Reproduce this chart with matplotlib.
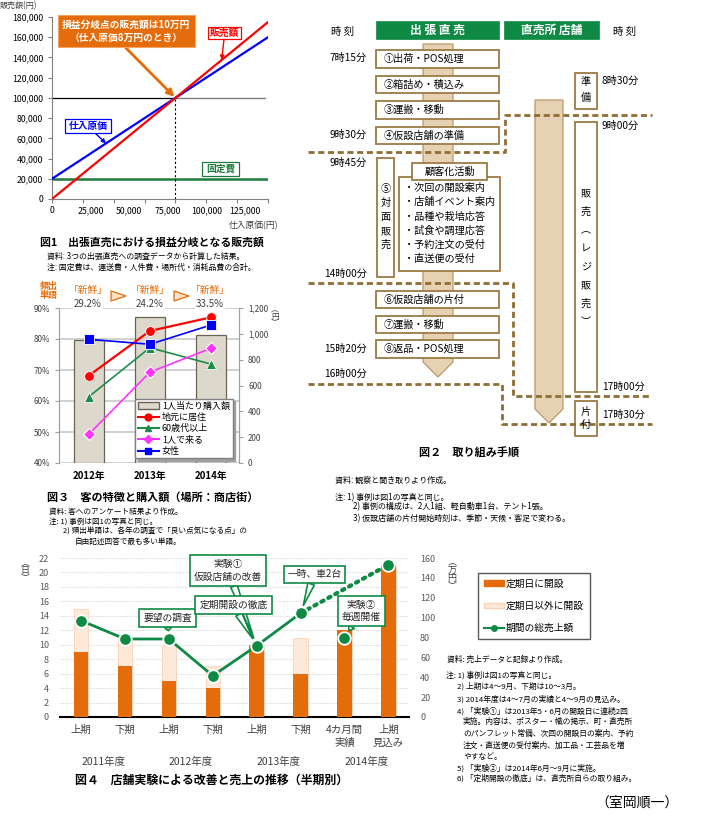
import numpy as np
import matplotlib.pyplot as plt
import matplotlib.transforms as mtransforms
from matplotlib.patches import Rectangle, Polygon, Patch
from matplotlib.lines import Line2D
from matplotlib.ticker import FuncFormatter

plt.rcParams['font.family'] = ['Noto Sans CJK JP', 'DejaVu Sans']

W, H = 705, 816

# 図1 データ
purchase = [0, 140000]
sales = [0, 175000]
cost = [20000, 160000]
fixed = [20000, 20000]
breakeven_x, breakeven_y = 80000, 100000

# 図3 データ
years3 = ['2012年', '2013年', '2014年']
spend = [950, 1130, 990]
local = [68.2, 82.6, 87.0]
over60 = [61.4, 77.2, 71.9]
alone = [49.3, 69.3, 77.0]
female = [79.9, 78.3, 84.5]
word_pct = ['29.2%', '24.2%', '33.5%']

# 図4 データ
periods = ['上期', '下期', '上期', '下期', '上期', '下期', '4カ月間\n実績', '上期\n見込み']
fiscal_years = ['2011年度', '2012年度', '2013年度', '2014年度']
days_regular = [9, 7, 5, 4, 10, 6, 12, 21]
days_total = [15, 11, 10, 7, 10, 11, 12, 21]
sales4 = [97, 78.5, 78.5, 41.5, 71.7, 104.4, 79.8, 153.2]

ORANGE = '#E46C0A'
GREEN = '#0E8A45'
BROWN = '#9C7B45'
TAN = '#E6D2B3'
GRAY = '#404040'

fig = plt.figure(figsize=(W / 100, H / 100), dpi=100)


def px_axes(x0, y0, x1, y1):
    return fig.add_axes([x0 / W, 1 - y1 / H, (x1 - x0) / W, (y1 - y0) / H])


# 全体の重ね書き用(ピクセル座標)
ov = fig.add_axes([0, 0, 1, 1], zorder=5)
ov.set_xlim(0, W)
ov.set_ylim(H, 0)
ov.axis('off')


def box(x0, y0, x1, y1, ec=BROWN, fc='white', lw=1.3, z=2):
    ov.add_patch(Rectangle((x0, y0), x1 - x0, y1 - y0, fc=fc, ec=ec, lw=lw, zorder=z))


def vtext(x, y0, dy, chars, **kw):
    for i, c in enumerate(chars):
        ov.text(x, y0 + i * dy, c, ha='center', va='center', zorder=4, **kw)


def txt(x, y, s, size=5.7, ha='left', **kw):
    ov.text(x, y, s, fontsize=size, ha=ha, va='center', zorder=4, **kw)


# ================= 図1 =================
ax1 = px_axes(52, 17, 268, 199)
ax1.plot(purchase, fixed, color='#1E7B3C', lw=1.8)
ax1.plot(purchase, cost, color='#0000FF', lw=1.6, zorder=3)
ax1.plot(purchase, sales, color='#FF0000', lw=1.6, zorder=4)
ax1.plot([0, breakeven_x], [breakeven_y] * 2, color='black', lw=0.9)
ax1.plot([breakeven_x, 138000], [breakeven_y] * 2, color='#7F7F7F', lw=1.0)
ax1.plot([breakeven_x] * 2, [0, breakeven_y], color='black', lw=0.8, ls=(0, (2, 2)))
ax1.set_xlim(0, 140000)
ax1.set_ylim(0, 180000)
ax1.set_yticks(range(0, 180001, 20000))
ax1.yaxis.set_major_formatter(FuncFormatter(lambda v, p: f'{int(v):,}'))
ax1.xaxis.remove_overlapping_locs = False
ax1.set_xticks(np.arange(0, 140001, 20000), labels=[])
ax1.set_xticks(np.arange(0, 125001, 25000), minor=True,
               labels=[f'{v:,}' for v in range(0, 125001, 25000)])
ax1.tick_params(axis='x', which='minor', length=0, labelsize=6.3, pad=5)
ax1.tick_params(axis='both', which='major', length=3, labelsize=6.3, color='#808080')
for s in ['top', 'right']:
    ax1.spines[s].set_visible(False)
for s in ['left', 'bottom']:
    ax1.spines[s].set_color('#808080')

txt(0, 6, '販売額(円)', size=5.8, color=GRAY)
txt(278, 226, '仕入原価(円)', size=6.3, ha='right', color=GRAY)

box(58, 15, 195, 47, ec='#F4A460', fc=ORANGE, lw=0.8, z=6)
ov.text(126, 31, '損益分岐点の販売額は10万円\n（仕入原価8万円のとき）', color='white',
        fontsize=7, ha='center', va='center', fontweight='bold', linespacing=1.4, zorder=7)
ax1.annotate('', xy=(breakeven_x, breakeven_y), xytext=(125, 47), textcoords=ov.transData,
             arrowprops=dict(arrowstyle='-|>', color=ORANGE, lw=2, mutation_scale=10, shrinkA=0, shrinkB=1))

box(208, 27, 241, 39, ec='#FF0000', lw=0.9, z=6)
ov.text(224.5, 33, '販売額', color='#FF0000', fontsize=7, ha='center', va='center',
        fontweight='bold', zorder=7)
ax1.annotate('', xy=(110000, 137500), xytext=(224, 39), textcoords=ov.transData,
             arrowprops=dict(arrowstyle='-|>', color='#FF0000', lw=1, mutation_scale=6, shrinkA=0, shrinkB=0))

box(65, 119, 111, 133, ec='#0000FF', lw=0.9, z=6)
ov.text(88, 126, '仕入原価', color='#0000FF', fontsize=7, ha='center', va='center',
        fontweight='bold', zorder=7)
ax1.annotate('', xy=(35000, 55000), xytext=(95, 133), textcoords=ov.transData,
             arrowprops=dict(arrowstyle='-|>', color='#0000FF', lw=1, mutation_scale=6, shrinkA=0, shrinkB=0))

box(202, 162, 239, 176, ec='#1E7B3C', lw=0.9, z=6)
ov.text(220.5, 169, '固定費', color='#1E7B3C', fontsize=7, ha='center', va='center',
        fontweight='bold', zorder=7)

txt(40, 243, '図1　出張直売における損益分岐となる販売額', size=7.8, fontweight='bold')
txt(47, 256, '資料: 3つの出張直売への調査データから計算した結果。')
txt(47, 267, '注: 固定費は、運送費・人件費・場所代・消耗品費の合計。')

# ================= 図3 =================
ax3 = px_axes(59, 308, 239, 463)
ax3r = ax3.twinx()
x3 = np.arange(len(years3))
for v in np.linspace(0, 1200, 6):
    ax3r.axhline(v, color='#C8C8C8', lw=1.2, zorder=0)
ax3r.bar(x3, spend, width=0.49, color='#DCD8CC', edgecolor='#6B6358', lw=0.9, zorder=2)
ax3r.set_ylim(0, 1200)
ax3r.set_yticks(range(0, 1201, 200))
ax3r.yaxis.set_major_formatter(FuncFormatter(lambda v, p: f'{int(v):,}'))
ax3.set_zorder(ax3r.get_zorder() + 1)
ax3.patch.set_visible(False)

ax3.plot(x3, local, color='#FF0000', lw=1.6, marker='o', ms=7, mec='white', mew=0.6)
ax3.plot(x3, over60, color='#1E8C4A', lw=1.2, marker='^', ms=7, mec='white', mew=0.6)
ax3.plot(x3, alone, color='#FF33FF', lw=1.2, marker='D', ms=6.5, mec='white', mew=0.8)
ax3.plot(x3, female, color='#0000FF', lw=1.2, marker='s', ms=7, mec='white', mew=0.6)
ax3.set_xlim(-0.49, 2.46)
ax3.set_ylim(40, 90)
ax3.set_yticks(range(40, 91, 10))
ax3.yaxis.set_major_formatter(FuncFormatter(lambda v, p: f'{int(v)}%'))
ax3.set_xticks(x3, years3)
for a in (ax3, ax3r):
    a.tick_params(axis='y', length=3, labelsize=5.8, labelcolor=GRAY, color='#A0A0A0')
    a.tick_params(axis='x', length=0, labelsize=7, pad=6)
    for s in a.spines.values():
        s.set_color('#A0A0A0')
    a.spines['top'].set_visible(False)
    a.spines['bottom'].set_visible(False)
for lbl in ax3.get_xticklabels():
    lbl.set_fontweight('bold')

handles3 = [Patch(fc='#DCD8CC', ec='#6B6358', label='1人当たり購入額'),
            Line2D([], [], color='#FF0000', marker='o', ms=5, label='地元に居住'),
            Line2D([], [], color='#1E8C4A', marker='^', ms=5, label='60歳代以上'),
            Line2D([], [], color='#FF33FF', marker='D', ms=4, label='1人で来る'),
            Line2D([], [], color='#0000FF', marker='s', ms=5, label='女性')]
leg3 = ax3.legend(handles=handles3, loc='lower right', bbox_to_anchor=(0.99, 0.0), fontsize=6.5,
                  handlelength=2.4, labelspacing=0.25, borderpad=0.3, handletextpad=0.3,
                  fancybox=False, framealpha=1, edgecolor='#808080',
                  shadow={'color': '#A0A0A0', 'alpha': 1})

ov.text(275, 317, '︵\n円\n︶', fontsize=5.5, color=GRAY, ha='center', va='center',
        linespacing=0.75, zorder=4)

# 頻出単語の見出し
ov.text(49, 291, '頻出\n単語', color=ORANGE, fontsize=6.5, fontweight='bold', ha='center',
        va='center', linespacing=1.0, zorder=4)
for cx, pct in zip([88, 150, 210], word_pct):
    ov.text(cx, 290, '「新鮮」', color=ORANGE, fontsize=7, ha='center', va='center', zorder=4)
    ov.text(cx, 304, pct, color=GRAY, fontsize=7, ha='center', va='center', zorder=4,
            bbox=dict(fc='white', ec='none', pad=1))
for tx in [111, 174]:
    ov.add_patch(Polygon([(tx, 291), (tx + 15, 296), (tx, 301)], closed=True,
                         fc='#FCE0C8', ec=ORANGE, lw=0.9, zorder=4))

txt(47, 497, '図３　客の特徴と購入額（場所：商店街）', size=8, fontweight='bold')
txt(49, 512, '資料: 客へのアンケート結果より作成。', size=5.5)
txt(49, 522, '注: 1) 事例は図1の写真と同じ。', size=5.5)
txt(63, 532, '2) 頻出単語は、各年の調査で「良い点気になる点」の', size=5.5)
txt(75, 542, '自由記述回答で最も多い単語。', size=5.5)

# ================= 図4 =================
ax4 = px_axes(60, 558, 409, 717)
x4 = np.arange(len(periods))
ax4.bar(x4, days_total, width=0.33, color='#FDE9D9', edgecolor='#FAD3B5', lw=0.6, zorder=2)
ax4.bar(x4, days_regular, width=0.33, color=ORANGE, zorder=3)
ax4.set_xlim(-0.48, 7.47)
ax4.set_ylim(0, 22)
ax4.set_yticks(range(0, 23, 2))
ax4.grid(axis='y', color='#D9D9D9', lw=0.8, ls=(0, (1, 1)), zorder=0)
ax4.set_axisbelow(True)
ax4.set_xticks(x4, periods)
ax4.tick_params(axis='x', length=0, labelsize=7.5, labelcolor=GRAY, pad=5.5)
ax4.tick_params(axis='y', length=0, labelsize=6.5, labelcolor='#595959', pad=8)
for lbl in ax4.get_xticklabels():
    lbl.set_linespacing(1.4)
for s in ['top', 'right', 'left']:
    ax4.spines[s].set_visible(False)
ax4.spines['bottom'].set_color('black')
ax4.spines['bottom'].set_linewidth(1.5)

ax4r = ax4.twinx()
ax4r.set_ylim(0, 160)
ax4r.set_yticks(range(0, 161, 20))
ax4r.tick_params(axis='y', length=0, labelsize=6.5, labelcolor='#595959', pad=8)
for s in ax4r.spines.values():
    s.set_visible(False)
ax4r.plot([x4[5], x4[7]], [sales4[5], sales4[7]], color=GREEN, lw=3,
          ls=(0, (0.6, 1.3)), dash_capstyle='round', zorder=2)
ax4r.plot(x4[:6], sales4[:6], color=GREEN, lw=2, zorder=3)
ax4r.plot(x4, sales4, ls='none', marker='o', ms=9, mfc=GREEN, mec='white', mew=1.3, zorder=4)

blend = mtransforms.blended_transform_factory(ax4.transData, ov.transData)
for xc, fy in zip([0.5, 2.5, 4.5, 6.5], fiscal_years):
    ax4.text(xc, 762, fy, transform=blend, fontsize=7.5, color=GRAY, ha='center', va='center')

callouts = [('要望の調査', 2, (167.5, 618)),
            ('実験①\n仮設店舗の改善', 4, (228, 570.5)),
            ('定期開設の徹底', 4, (233.5, 605)),
            ('一時、車2台', 5, (314.5, 574.5)),
            ('実験②\n毎週開催', 6, (361.5, 611))]
for label, idx, pos in callouts:
    ax4r.annotate(label, xy=(x4[idx], sales4[idx]), xytext=pos, textcoords=ov.transData,
                  ha='center', va='center', fontsize=7, color='#262626', linespacing=1.3,
                  bbox=dict(boxstyle='square,pad=0.4', fc='white', ec=GREEN, lw=1.2),
                  arrowprops=dict(arrowstyle='wedge,tail_width=0.7', fc='white', ec=GREEN,
                                  lw=1.2, shrinkA=0, shrinkB=6),
                  zorder=6)

ov.text(25, 571, '︵\n日\n︶', fontsize=6.5, color=GRAY, ha='center', va='center',
        linespacing=0.8, zorder=4)
ov.text(452, 575, '︵\n万\n円\n︶', fontsize=6.5, color=GRAY, ha='center', va='center',
        linespacing=0.85, zorder=4)

handles4 = [Patch(fc=ORANGE, ec=ORANGE, label='定期日に開設'),
            Patch(fc='#FDE9D9', ec='#FAD3B5', label='定期日以外に開設'),
            Line2D([], [], color=GREEN, lw=1.5, marker='o', ms=4, label='期間の総売上額')]
fig.legend(handles=handles4, loc='upper left', bbox_to_anchor=(473 / W, 1 - 568 / H),
           fontsize=7, handlelength=2.1, handleheight=0.5, labelspacing=1.25, borderpad=0.6,
           handletextpad=0.2, fancybox=False, framealpha=1, edgecolor='#595959')

txt(75, 780, '図４　店舗実験による改善と売上の推移（半期別）', size=8.6, fontweight='bold')

notes4 = [(447, 660, '資料: 売上データと記録より作成。'),
          (446, 675, '注: 1) 事例は図1の写真と同じ。'),
          (457, 686, '2) 上期は4～9月、下期は10～3月。'),
          (457, 699, '3) 2014年度は4～7月の実績と4～9月の見込み。'),
          (457, 711, '4) 「実験①」は2013年5・6月の開設日に連続2回'),
          (463, 722, '実施。内容は、ポスター・幟の掲示、町・直売所'),
          (463, 734, 'のパンフレット常備、次回の開設日の案内、予約'),
          (463, 746, '注文・直送便の受付案内、加工品・工芸品を増'),
          (463, 757, 'やすなど。'),
          (457, 768, '5) 「実験②」は2014年6月～9月に実施。'),
          (457, 778, '6) 「定期開設の徹底」は、直売所自らの取り組み。')]
for nx, ny, s in notes4:
    txt(nx, ny, s, size=5.6)
txt(637, 803, '（室岡順一）', size=10, ha='center')

# ================= 図2 =================
txt(343, 32, '時 刻', size=7.5, ha='center')
txt(625, 32, '時 刻', size=7.5, ha='center')
box(376, 21, 499, 39, ec=GREEN, fc=GREEN, lw=0.5)
box(504, 21, 599, 39, ec=GREEN, fc=GREEN, lw=0.5)
txt(437.5, 30, '出 張 直 売', size=8.5, ha='center', color='white', fontweight='bold')
txt(551.5, 30, '直売所 店舗', size=8.5, ha='center', color='white', fontweight='bold')

ov.add_patch(Polygon([(423, 44), (453, 44), (453, 362), (438, 377), (423, 362)], closed=True,
                     fc=TAN, ec='#B8996A', lw=0.9, zorder=1))
ov.add_patch(Polygon([(535, 100), (563, 100), (563, 409), (549, 423), (535, 409)], closed=True,
                     fc=TAN, ec='#B8996A', lw=0.9, zorder=1))

steps_left = [(50, 68, '①出荷・POS処理'), (76, 93, '②箱詰め・積込み'),
              (101, 119, '③運搬・移動'), (127, 144, '④仮設店舗の準備'),
              (291, 308, '⑥仮設店舗の片付'), (316, 333, '⑦運搬・移動'),
              (340, 358, '⑧返品・POS処理')]
for y0, y1, s in steps_left:
    box(376, y0, 499, y1)
    txt(384, (y0 + y1) / 2, s, size=7.3)

dash = dict(color='#8E6E34', lw=2, ls=(0, (2.2, 1.3)), zorder=3)
ov.plot([308, 505, 505, 652], [152, 152, 115, 115], **dash)
ov.plot([308, 513, 513, 649], [283, 283, 396, 396], **dash)
ov.plot([308, 502, 502, 652], [384, 384, 424, 424], **dash)

box(377, 158, 394, 277)
vtext(385.5, 189, 14, ['⑤', '対', '面', '販', '売'], fontsize=7.3)

box(399, 177, 500, 271)
box(412, 163, 487, 180)
txt(449.5, 171.5, '顧客化活動', size=7.3, ha='center')
activities = ['・次回の開設案内', '・店舗イベント案内', '・品種や栽培応答',
              '・試食や調理応答', '・予約注文の受付', '・直送便の受付']
for i, s in enumerate(activities):
    txt(404, 188 + i * 14.2, s, size=7.3)

box(575, 73, 597, 109)
vtext(586, 82, 16, ['準', '備'], fontsize=7.3)
box(575, 122, 597, 392)
vtext(586, 193, 18.4, ['販', '売', '︵', 'レ', 'ジ', '販', '売', '︶'], fontsize=7.3)
box(575, 401, 597, 436)
vtext(586, 412, 13, ['片', '付'], fontsize=7.3)

for ty, s in [(58, '7時15分'), (135, '9時30分'), (163, '9時45分'),
              (274, '14時00分'), (349, '15時20分'), (374, '16時00分')]:
    txt(367, ty, s, size=7.3, ha='right')
for ty, s in [(81, '8時30分'), (126, '9時00分'), (387, '17時00分'), (415, '17時30分')]:
    txt(602, ty, s, size=7.3)

txt(469, 452, '図２　取り組み手順', size=8, ha='center', fontweight='bold')
txt(335, 480, '資料: 観察と聞き取りより作成。', size=5.8)
txt(335, 498, '注: 1) 事例は図1の写真と同じ。', size=5.8)
txt(353, 507, '2) 事例の構成は、2人1組、軽自動車1台、テント1張。', size=5.8)
txt(353, 519, '3) 仮設店舗の片付開始時刻は、季節・天候・客足で変わる。', size=5.8)

fig.savefig('out.png', dpi=100)
